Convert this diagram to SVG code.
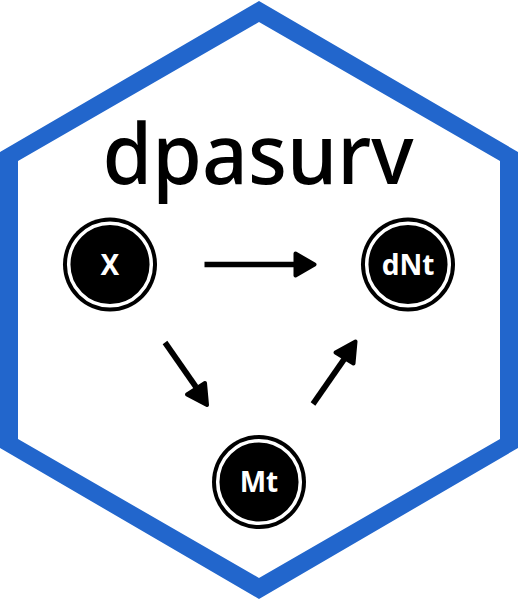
<svg xmlns="http://www.w3.org/2000/svg" width="518" height="600" viewBox="0 0 518 600">
<style>
.ring{fill:#000}
.inner{fill:#000;stroke:#fff;stroke-width:3.500}
.lbl{font-family:"Noto Sans",sans-serif;font-weight:700;font-size:28px;fill:#fff;text-anchor:middle}
.edge{fill:none;stroke:#000;stroke-width:5.700}
.head{fill:#000;stroke:#000;stroke-width:4;stroke-linejoin:round}
</style>
<rect width="518" height="600" fill="#fff"/>
<g id="hexagon"><path fill="#2266cc" fill-rule="evenodd" d="M259 1L518 152V448L259 599L0 448V152ZM259 22L18 161V439L259 578L500 439V161Z"/></g>
<g id="title"><text x="258" y="184" font-family="'Noto Sans',sans-serif" font-weight="500" font-size="84" fill="#000" text-anchor="middle" textLength="311" lengthAdjust="spacingAndGlyphs">dpasurv</text></g>
<g id="connectors">
<path class="edge" d="M204.500 264.500H296"/><path class="head" d="M295.500 253.500L314.500 264.500L295.500 275.500Z"/>
<path class="edge" d="M165 342.500L196 387"/><path class="head" d="M187 394.500L207 405L205 383Z"/>
<path class="edge" d="M313 404L345 358"/><path class="head" d="M335.500 352.500L355.500 341.500L353.500 363.500Z"/>
</g>
<g id="node-x"><circle class="ring" cx="110" cy="264.500" r="47"/><circle class="inner" cx="110" cy="264.500" r="41.300"/><text class="lbl" x="110" y="274.500">X</text></g>
<g id="node-dnt"><circle class="ring" cx="408" cy="264.500" r="47"/><circle class="inner" cx="408" cy="264.500" r="41.300"/><text class="lbl" x="408" y="274.500">dNt</text></g>
<g id="node-mt"><circle class="ring" cx="259" cy="482" r="47"/><circle class="inner" cx="259" cy="482" r="41.300"/><text class="lbl" x="259" y="492">Mt</text></g>
</svg>
